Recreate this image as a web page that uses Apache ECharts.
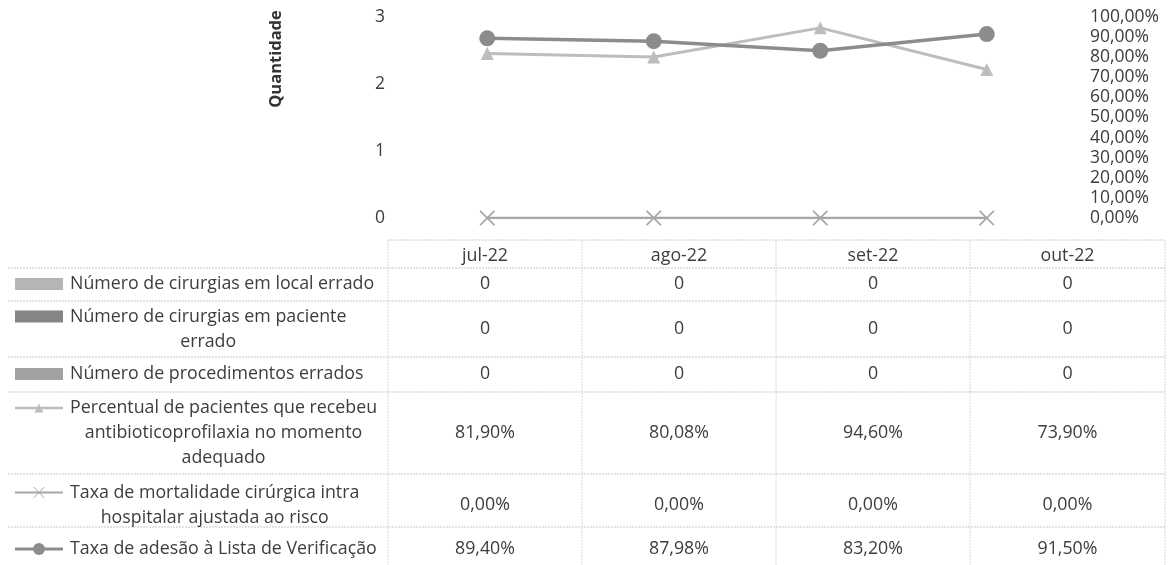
<!DOCTYPE html>
<html><head><meta charset="utf-8">
<script src="https://cdn.jsdelivr.net/npm/echarts@6/dist/echarts.min.js"></script>
<style>html,body{margin:0;padding:0;background:#fff}#c{width:1168px;height:565px}</style>
</head><body><div id="c"></div>
<script>
// ---- data ----
const categories = ['jul-22', 'ago-22', 'set-22', 'out-22'];
const localErrado = [0, 0, 0, 0];
const pacienteErrado = [0, 0, 0, 0];
const procedimentosErrados = [0, 0, 0, 0];
const antibiotico = [0.819, 0.8008, 0.946, 0.739];
const mortalidade = [0, 0, 0, 0];
const adesao = [0.894, 0.8798, 0.832, 0.915];
const leftTicks = [0, 1, 2, 3];
const rightTicks = [0, 0.1, 0.2, 0.3, 0.4, 0.5, 0.6, 0.7, 0.8, 0.9, 1];
const seriesNames = [
  'Número de cirurgias em local errado',
  'Número de cirurgias em paciente\nerrado',
  'Número de procedimentos errados',
  'Percentual de pacientes que recebeu\nantibioticoprofilaxia no momento\nadequado',
  'Taxa de mortalidade cirúrgica intra\nhospitalar ajustada ao risco',
  'Taxa de adesão à Lista de Verificação'
];
const axisName = 'Quantidade';

// ---- styles ----
const FONT = '"Open Sans", "Liberation Sans", sans-serif';
const TXT = '#3d3d3d';
const colors = ['#b5b5b5', '#858585', '#a2a2a2', '#bdbdbd', '#a6a6a6', '#8c8c8c'];
const pct = v => (v * 100).toFixed(2).replace('.', ',') + '%';
const num = v => String(v);
const xPath = 'path://M0,0L1.6,0L10,8.4L18.4,0L20,0L20,1.6L11.6,10L20,18.4L20,20L18.4,20L10,11.6L1.6,20L0,20L0,18.4L8.4,10L0,1.6Z';
const markers = [null, null, null, 'triangle', xPath, 'circle'];
const markerSizes = [0, 0, 0, 13, 15, 16];
const lineWidths = [0, 0, 0, 3, 2.5, 3.5];

const chart = echarts.init(document.getElementById('c'), null, {renderer: 'canvas'});

const rows = [
  {vals: localErrado, fmt: num, kind: 'bar'},
  {vals: pacienteErrado, fmt: num, kind: 'bar'},
  {vals: procedimentosErrados, fmt: num, kind: 'bar'},
  {vals: antibiotico, fmt: pct, kind: 'line'},
  {vals: mortalidade, fmt: pct, kind: 'line'},
  {vals: adesao, fmt: pct, kind: 'line'}
];

// table layout
const colEdges = [388, 582, 776, 970, 1165];
const headerY = 256;
const rowCenters = [284, 329, 374, 433, 505, 549];
const lineH = 25;
const hLines = [268, 301, 357, 392, 474, 527];
const tableTop = 240, tableBottom = 565;
const tFont = '17.8px ' + FONT;

const ctx = document.createElement('canvas').getContext('2d');
ctx.font = tFont;

const graphic = [];
graphic.push({type: 'line', shape: {x1: colEdges[0], y1: tableTop, x2: colEdges[4], y2: tableTop}, style: {stroke: '#cccccc', lineWidth: 1, lineDash: [2, 1]}});
hLines.forEach(y => graphic.push({type: 'line', shape: {x1: 8, y1: y, x2: colEdges[4], y2: y}, style: {stroke: '#c8c8c8', lineWidth: 1, lineDash: [2, 1]}}));
colEdges.forEach(x => graphic.push({type: 'line', shape: {x1: x, y1: tableTop, x2: x, y2: tableBottom}, style: {stroke: '#d6d6d6', lineWidth: 1, lineDash: [2, 1]}}));

categories.forEach((c, i) => {
  graphic.push({type: 'text', x: (colEdges[i] + colEdges[i + 1]) / 2, y: headerY,
    style: {text: c, font: tFont, fill: TXT, align: 'center', verticalAlign: 'middle'}});
});

rows.forEach((r, ri) => {
  const name = seriesNames[ri];
  const lines = name.split('\n');
  const n = lines.length;
  const cy = rowCenters[ri];
  const firstY = cy - (n - 1) * lineH / 2;
  const textLeft = 70;
  if (n === 1) {
    graphic.push({type: 'text', x: textLeft, y: cy, style: {text: name, font: tFont, fill: TXT, align: 'left', verticalAlign: 'middle'}});
  } else {
    const maxW = Math.max(...lines.map(l => ctx.measureText(l).width));
    graphic.push({type: 'text', x: textLeft + maxW / 2, y: cy, style: {text: name, font: tFont, fill: TXT, align: 'center', verticalAlign: 'middle', lineHeight: lineH}});
  }
  if (r.kind === 'bar') {
    graphic.push({type: 'rect', shape: {x: 15, y: firstY - 6, width: 48, height: 12}, style: {fill: colors[ri]}});
  } else {
    graphic.push({type: 'line', shape: {x1: 15, y1: firstY, x2: 63, y2: firstY}, style: {stroke: colors[ri], lineWidth: lineWidths[ri] - 0.5}});
    const sz = markerSizes[ri] - 4;
    if (markers[ri] === 'circle') {
      graphic.push({type: 'circle', shape: {cx: 39, cy: firstY, r: sz / 2}, style: {fill: colors[ri]}});
    } else if (markers[ri] === 'triangle') {
      graphic.push({type: 'polygon', shape: {points: [[39, firstY - sz / 2], [39 + sz / 2, firstY + sz / 2], [39 - sz / 2, firstY + sz / 2]]}, style: {fill: colors[ri]}});
    } else {
      graphic.push({type: 'line', shape: {x1: 39 - sz / 2, y1: firstY - sz / 2, x2: 39 + sz / 2, y2: firstY + sz / 2}, style: {stroke: colors[ri], lineWidth: 1}});
      graphic.push({type: 'line', shape: {x1: 39 - sz / 2, y1: firstY + sz / 2, x2: 39 + sz / 2, y2: firstY - sz / 2}, style: {stroke: colors[ri], lineWidth: 1}});
    }
  }
  r.vals.forEach((v, ci) => {
    graphic.push({type: 'text', x: (colEdges[ci] + colEdges[ci + 1]) / 2, y: cy,
      style: {text: r.fmt(v), font: tFont, fill: TXT, align: 'center', verticalAlign: 'middle'}});
  });
});

graphic.push({type: 'text', x: 276, y: 59, rotation: Math.PI / 2,
  style: {text: axisName, font: 'bold 16.5px ' + FONT, fill: '#333333', align: 'center', verticalAlign: 'middle'}});

const barSeries = [localErrado, pacienteErrado, procedimentosErrados].map((d, i) => ({
  name: seriesNames[i], type: 'bar', yAxisIndex: 0, data: d, itemStyle: {color: colors[i]}, barWidth: 30
}));
const lineSeries = [3, 4, 5].map(i => ({
  name: seriesNames[i], type: 'line', yAxisIndex: 1, data: rows[i].vals,
  symbol: markers[i], symbolSize: markerSizes[i], showSymbol: true,
  lineStyle: {color: colors[i], width: lineWidths[i]},
  itemStyle: {color: colors[i], borderWidth: 0}
}));

chart.setOption({
  animation: false,
  backgroundColor: '#ffffff',
  grid: {left: 404, right: 98, top: 17, bottom: 347, containLabel: false},
  xAxis: {type: 'category', data: categories, boundaryGap: true,
    axisLine: {show: false}, axisTick: {show: false}, axisLabel: {show: false}, splitLine: {show: false}},
  yAxis: [
    {type: 'value', min: leftTicks[0], max: leftTicks[leftTicks.length - 1], interval: 1,
      axisLine: {show: false}, axisTick: {show: false}, splitLine: {show: false},
      axisLabel: {color: TXT, fontSize: 17.5, fontFamily: FONT, margin: 19}},
    {type: 'value', min: rightTicks[0], max: rightTicks[rightTicks.length - 1], interval: 0.1,
      axisLine: {show: false}, axisTick: {show: false}, splitLine: {show: false},
      axisLabel: {color: TXT, fontSize: 17.5, fontFamily: FONT, margin: 20, formatter: v => pct(v)}}
  ],
  series: barSeries.concat(lineSeries),
  graphic: graphic
});
</script>
</body></html>
